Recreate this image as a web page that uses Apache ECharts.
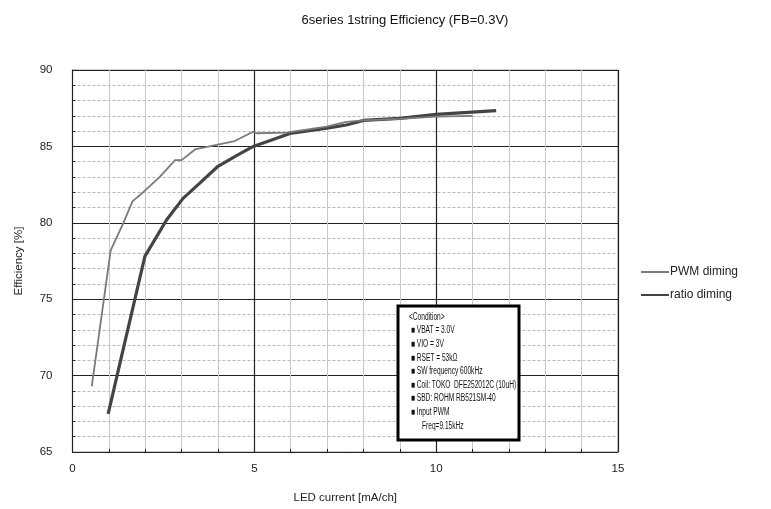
<!DOCTYPE html>
<html><head><meta charset="utf-8">
<script src="https://cdn.jsdelivr.net/npm/echarts@6/dist/echarts.min.js"></script>
<style>html,body{margin:0;padding:0;background:#fff}#c{width:771px;height:509px}</style>
</head><body><div id="c"></div>
<script>
const titleText = '6series 1string Efficiency (FB=0.3V)';
const xName = 'LED current [mA/ch]';
const yName = 'Efficiency [%]';
const seriesNames = ['PWM diming', 'ratio diming'];
const pwmX = [0.53, 1.05, 1.40, 1.65, 1.99, 2.40, 2.82, 3.00, 3.37, 3.96, 4.46, 4.97, 5.06, 5.88, 6.98, 7.53, 7.99, 9.0, 10.0, 11.0];
const pwmY = [69.3, 78.2, 80.0, 81.4, 82.1, 83.0, 84.1, 84.1, 84.8, 85.1, 85.35, 85.96, 85.86, 85.9, 86.3, 86.6, 86.7, 86.8, 86.95, 87.0];
const ratioX = [0.98, 1.99, 2.59, 3.04, 3.50, 4.00, 4.51, 4.97, 5.98, 7.00, 7.53, 8.00, 9.00, 10.0, 11.65];
const ratioY = [67.5, 77.8, 80.2, 81.6, 82.6, 83.7, 84.4, 85.0, 85.85, 86.2, 86.4, 86.7, 86.84, 87.1, 87.34];
const conditionLines = ['<Condition>', '■ VBAT = 3.0V', '■ VIO = 3V', '■ RSET = 53kΩ', '■ SW frequency 600kHz', '■ Coil: TOKO  DFE252012C (10uH)', '■ SBD: ROHM RB521SM-40', '■ Input PWM', '      Freq=9.15kHz'];

const zip = (xs, ys) => xs.map((x, i) => [x, ys[i]]);
const chart = echarts.init(document.getElementById('c'));
const font = 'Liberation Sans, Arial, sans-serif';
const condTexts = conditionLines.map((t, i) => ({
  type: 'text', x: 398 + (i === 0 ? 11 : 13), y: 312 + i * 13.6, z: 101,
  scaleX: 0.66, originX: 0, originY: 0,
  style: { text: t, x: 0, y: 0, font: '10px ' + font, fill: '#111' }
}));
chart.setOption({
  animation: false,
  backgroundColor: '#fff',
  title: { text: titleText, left: 400, top: 9, textAlign: 'center',
    textStyle: { fontFamily: font, fontSize: 13, fontWeight: 'normal', color: '#111' } },
  grid: { left: 72.5, right: 153, top: 70, bottom: 57, show: true, borderColor: '#999', borderWidth: 1 },
  legend: {
    orient: 'vertical', left: 636, top: 261, itemWidth: 28, itemHeight: 2, itemGap: 11,
    textStyle: { fontFamily: font, fontSize: 12, color: '#222', padding: [0, 0, 0, -4] },
    data: [
      { name: seriesNames[0], icon: 'rect', itemStyle: { color: '#7a7a7a' } },
      { name: seriesNames[1], icon: 'rect', itemStyle: { color: '#444' } }
    ]
  },
  xAxis: {
    type: 'value', min: 0, max: 15, interval: 5,
    name: xName, nameLocation: 'middle', nameGap: 40,
    nameTextStyle: { fontFamily: font, fontSize: 11.5, color: '#222' },
    axisLine: { lineStyle: { color: '#222', width: 1 } },
    axisTick: { show: true, inside: true, length: 3, lineStyle: { color: '#222' } },
    minorTick: { show: true, splitNumber: 5, length: 3, lineStyle: { color: '#222' } },
    axisLabel: { fontFamily: font, fontSize: 11.5, color: '#222', margin: 11 },
    splitLine: { lineStyle: { color: '#222', width: 1.2 } },
    minorSplitLine: { show: true, lineStyle: { color: '#c8c8c8', width: 1 } }
  },
  yAxis: {
    type: 'value', min: 65, max: 90, interval: 5,
    name: yName, nameLocation: 'middle', nameGap: 48, nameRotate: 90,
    nameTextStyle: { fontFamily: font, fontSize: 11.5, color: '#222' },
    axisLine: { show: true, lineStyle: { color: '#222', width: 1 } },
    axisTick: { show: true, inside: true, length: 3, lineStyle: { color: '#222' } },
    minorTick: { show: true, splitNumber: 5, length: 3, lineStyle: { color: '#222' } },
    axisLabel: { fontFamily: font, fontSize: 11.5, color: '#222', margin: 20 },
    splitLine: { lineStyle: { color: '#222', width: 1.2 } },
    minorSplitLine: { show: true, lineStyle: { color: '#b8b8b8', width: 1, type: [3, 2] } }
  },
  series: [
    { name: seriesNames[0], type: 'line', data: zip(pwmX, pwmY), showSymbol: false, symbol: 'none',
      lineStyle: { color: '#7a7a7a', width: 1.8 }, itemStyle: { color: '#7a7a7a' }, z: 3 },
    { name: seriesNames[1], type: 'line', data: zip(ratioX, ratioY), showSymbol: false, symbol: 'none',
      lineStyle: { color: '#444', width: 3.2 }, itemStyle: { color: '#444' }, z: 2 }
  ],
  graphic: [
    { type: 'rect', z: 100, shape: { x: 398, y: 306, width: 121, height: 134 },
      style: { fill: '#ffffff', stroke: '#000', lineWidth: 3 } }
  ].concat(condTexts)
});
</script></body></html>
